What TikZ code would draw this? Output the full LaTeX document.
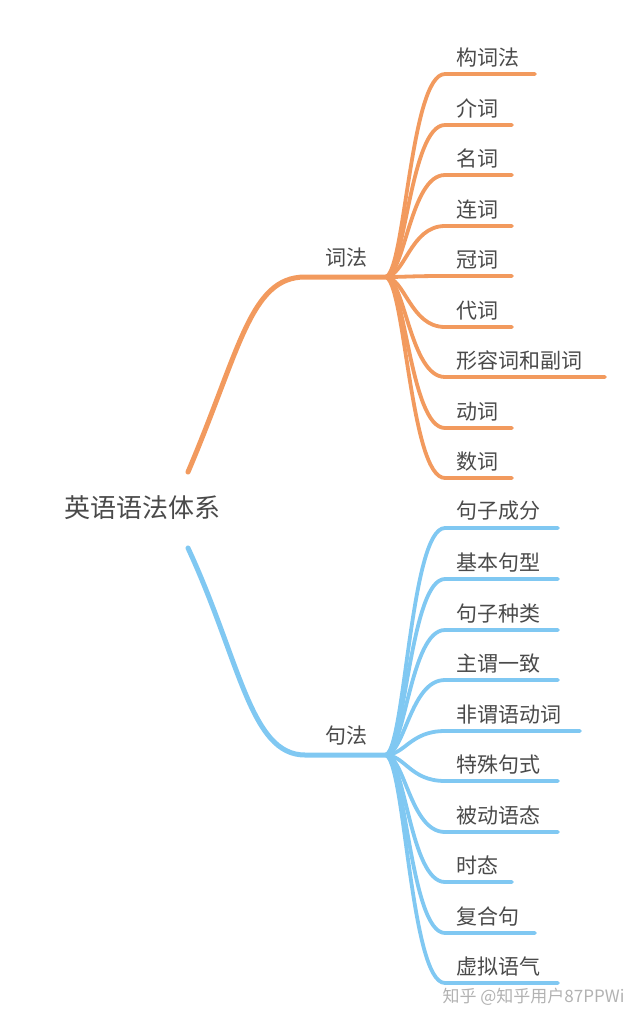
\documentclass[tikz,border=0pt]{standalone}
\usepackage{fontspec}
\newfontfamily\cjk{Noto Sans CJK SC}
\usetikzlibrary{positioning}
\definecolor{cilorange}{HTML}{F29A5E}
\definecolor{juskyblue}{HTML}{80C8F2}
\definecolor{txtgray}{HTML}{4A4A4A}
\tikzset{
  branch/.style={line width=5pt,line cap=round},
  twig/.style={line width=3.8pt,line cap=round},
  lbl/.style={font=\cjk\fontsize{21}{21}\selectfont,text=txtgray,inner sep=1pt,anchor=south west},
}
\begin{document}
\begin{tikzpicture}[x=1pt,y=-1pt]
%
  \useasboundingbox (0,0) rectangle (640,1023);
%
  \node (root) [font=\cjk\fontsize{26}{26}\selectfont,text=txtgray] at (142,508) {英语语法体系};
%
  \coordinate (cs) at (188,472);
  \coordinate (cf) at (385,277);
  \coordinate (js) at (188,548);
  \coordinate (jf) at (385,755);
  \node (cifa) [lbl] at (324,268) {词法};
  \node (jufa) [lbl] at (324,746) {句法};
%
  \draw [branch,cilorange] (cs) .. controls (240,350) and (250,277) .. (305,277) -- (cf);
  \draw [branch,juskyblue] (js) .. controls (240,660) and (250,755) .. (305,755) -- (jf);
%
  \foreach \y/\e/\t [count=\i] in {74/535/构词法,125/512/介词,175/512/名词,226/512/连词,
      276/512/冠词,327/512/代词,377/605/形容词和副词,428/512/动词,478/512/数词} {
    \coordinate (ce\i) at (\e,\y);
    \draw [twig,cilorange] (cf) .. controls +(20,0) and +(-35,0) .. (445,\y) -- (ce\i);
    \node (ct\i) [lbl] at (455,\y-6) {\t};
  }
%
  \foreach \y/\e/\t [count=\i] in {528/558/句子成分,579/558/基本句型,630/558/句子种类,
      680/558/主谓一致,731/580/非谓语动词,781/558/特殊句式,832/558/被动语态,
      882/512/时态,933/535/复合句,983/558/虚拟语气} {
    \coordinate (je\i) at (\e,\y);
    \draw [twig,juskyblue] (jf) .. controls +(20,0) and +(-35,0) .. (445,\y) -- (je\i);
    \node (jt\i) [lbl] at (455,\y-6) {\t};
  }
%
  \node (mark) [font=\cjk\fontsize{17}{17}\selectfont,text=gray!60,anchor=east] at (628,997) {知乎 @知乎用户87PPWi};
%
\end{tikzpicture}
\end{document}
